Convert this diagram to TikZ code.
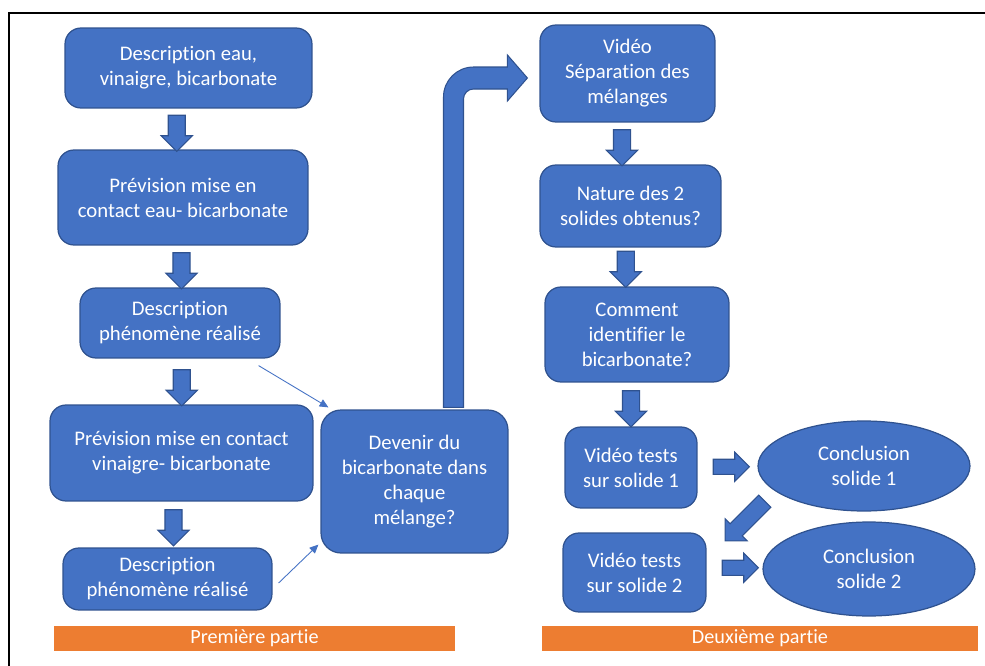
\documentclass[tikz,border=0pt]{standalone}
\usepackage{fontspec}
\setmainfont{Carlito}[Ligatures=NoCommon]
\usepackage{tikz}
\usetikzlibrary{arrows.meta, calc, positioning, shapes.geometric, shapes.arrows}
\definecolor{mBlue}{HTML}{4472C4}
\definecolor{mEdge}{HTML}{2F528F}
\definecolor{mOrange}{HTML}{ED7D31}

\begin{document}
\begin{tikzpicture}[
  x=0.02cm, y=-0.02cm,
  box/.style={draw=mEdge, line width=0.7pt, rounded corners=#1, fill=mBlue, text=white,
              align=center, inner sep=2pt, font=\fontsize{11.8}{14.2}\selectfont},
  box/.default=0.32cm,
  oval/.style={ellipse, draw=mEdge, line width=0.7pt, fill=mBlue, text=white,
               align=center, inner sep=0pt, font=\fontsize{11.8}{14.2}\selectfont},
  band/.style={fill=mOrange, text=white, inner sep=0pt, minimum height=0.5cm,
               font=\fontsize{11.5}{13}\selectfont},
  fat/.style={single arrow, draw=mEdge, line width=0.6pt, fill=mBlue, inner xsep=0pt,
              inner ysep=0.16cm, single arrow head extend=0.14cm, minimum height=#1},
  fat/.default=0.72cm,
  link/.style={-{Triangle[length=5pt, width=4.5pt]}, draw=mBlue, line width=0.5pt}]
  \useasboundingbox (0,0) rectangle (985,666);
  \draw[line width=1.1pt] (9,666) -- (9,13) -- (985,13);
  % left column: first part
  \node[box, minimum width=4.94cm, minimum height=1.6cm] (d1) at (188.5,68) {Description eau,\\vinaigre, bicarbonate};
  \node[box, minimum width=5.0cm, minimum height=1.9cm] (p1) at (183,197.5) {Prévision mise en\\contact eau- bicarbonate};
  \node[box, minimum width=4.0cm, minimum height=1.4cm] (d2) at (180,323) {Description\\phénomène réalisé};
  \node[box, minimum width=5.26cm, minimum height=1.92cm] (p2) at (181.5,453) {Prévision mise en contact\\vinaigre- bicarbonate};
  \node[box, minimum width=4.18cm, minimum height=1.24cm] (d3) at (167.5,579) {Description\\phénomène réalisé};
  \node[box=0.4cm, minimum width=3.74cm, minimum height=2.86cm] (dev) at (414.5,481.5) {Devenir du\\bicarbonate dans\\chaque\\mélange?};
  % right column: second part
  \node[box, minimum width=3.5cm, minimum height=1.94cm] (vid) at (627.5,73.5) {Vidéo\\Séparation des\\mélanges};
  \node[box, minimum width=3.62cm, minimum height=1.64cm] (nat) at (630.5,206) {Nature des 2\\solides obtenus?};
  \node[box, minimum width=3.68cm, minimum height=1.9cm] (com) at (637,334.5) {Comment\\identifier le\\bicarbonate?};
  \node[box, minimum width=2.64cm, minimum height=1.62cm] (vt1) at (631,467.5) {Vidéo tests\\sur solide 1};
  \node[box, minimum width=2.86cm, minimum height=1.58cm] (vt2) at (634.5,572.5) {Vidéo tests\\sur solide 2};
  \node[oval, minimum width=4.24cm, minimum height=1.8cm] (c1) at (864,466) {Conclusion\\solide 1};
  \node[oval, minimum width=4.24cm, minimum height=1.88cm] (c2) at (869,569) {Conclusion\\solide 2};
  % part labels
  \node[band, minimum width=8.02cm] (b1) at (254.5,638.5) {Première partie};
  \node[band, minimum width=8.72cm] (b2) at (760,638.5) {Deuxième partie};
  % block arrows
  \node[fat, rotate=-90] at ($(d1.south)!0.5!(p1.north)+(-9,0)$) {};
  \node[fat, rotate=-90] at ($(p1.south)!0.5!(d2.north)$) {};
  \node[fat, rotate=-90] at ($(d2.south)!0.5!(p2.north)+(1,2)$) {};
  \node[fat, rotate=-90] at ($(p2.south)!0.5!(d3.north)+(-1,-1)$) {};
  \node[fat, rotate=-90] at ($(vid.south)!0.5!(nat.north)+(-7,0)$) {};
  \node[fat, rotate=-90] at ($(nat.south)!0.5!(com.north)+(-8,-2)$) {};
  \node[fat, rotate=-90] at ($(com.south)!0.5!(vt1.north)+(-3,0)$) {};
  \node[fat, inner ysep=0.14cm] at ($(vt1.east)!0.5!(c1.west)$) {};
  \node[fat, inner ysep=0.14cm] at ($(vt2.east)!0.5!(c2.west)+(2,-3)$) {};
  \node[fat=1.12cm, rotate=225] at ($(c1.center)+(-116,52)$) {};
  % bent arrow up to the second part
  \coordinate (foot) at ($(dev.north)+(39,-2)$);
  \coordinate (tip) at ($(vid.west)+(-12,4.5)$);
  \draw[draw=mEdge, fill=mBlue, line width=0.6pt]
    ($(foot)+(-10,0)$) -- ($(foot |- tip)+(-10,19)$) arc[start angle=180, end angle=90, radius=0.6cm]
    -- ($(tip)+(-20,-11)$) -- ($(tip)+(-20,-23)$) -- (tip) -- ($(tip)+(-20,23)$) -- ($(tip)+(-20,11)$)
    -- ($(foot |- tip)+(20,11)$) arc[start angle=90, end angle=180, radius=0.2cm]
    -- ($(foot)+(10,0)$) -- cycle;
  % thin links into the question box
  \draw[link] ($(d2.south east)+(-22,7)$) -- ($(dev.north west)+(8,-2)$);
  \draw[link] ($(d3.east)+(6,4)$) -- ($(dev.south west)+(-2,-9)$);
\end{tikzpicture}
\end{document}
